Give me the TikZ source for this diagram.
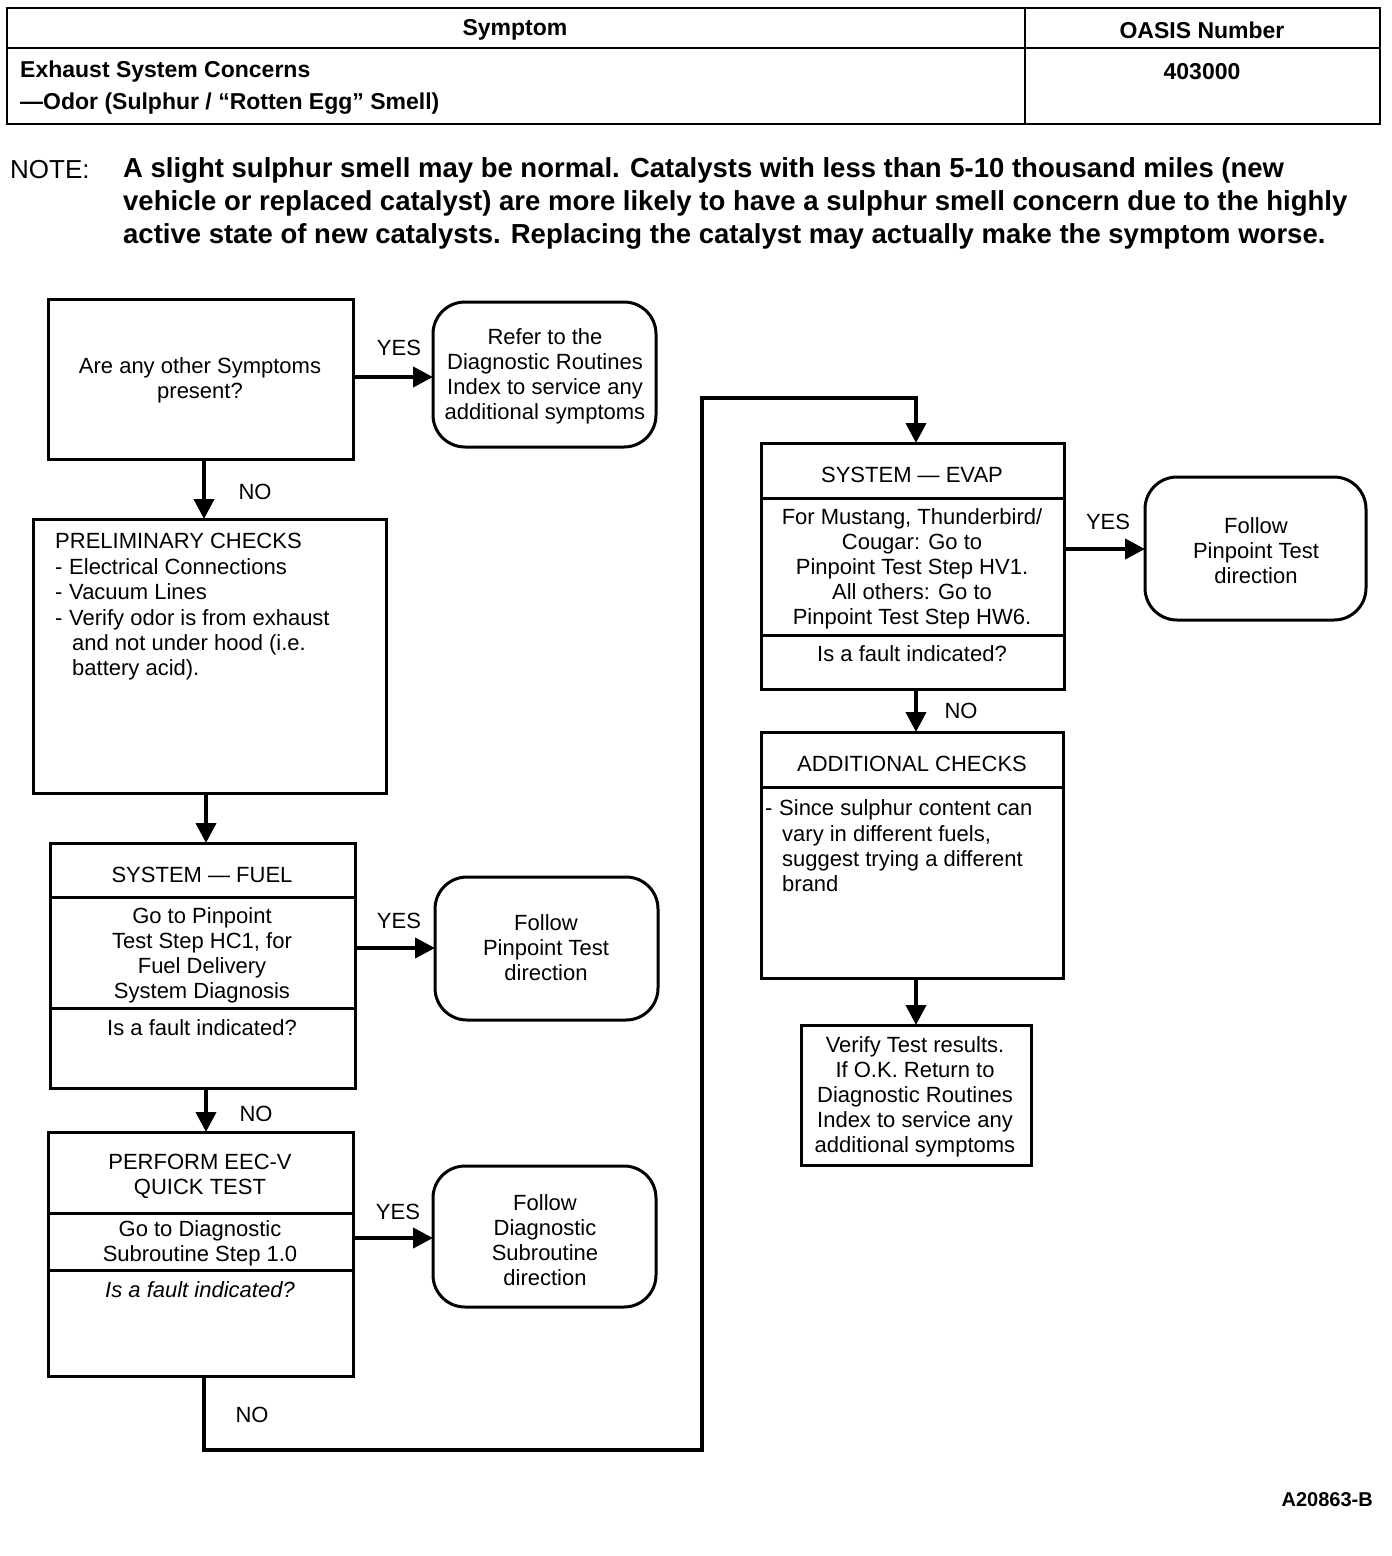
\documentclass[tikz,border=0pt]{standalone}
\usepackage{fontspec}
\setmainfont{Liberation Sans}
\usetikzlibrary{arrows.meta}
\begin{document}
\begin{tikzpicture}[x=1pt,y=-1pt,
 box/.style={draw,line width=3pt,inner sep=0,outer sep=0},
 rbox/.style={box,rounded corners=32pt},
 txt/.style={inner sep=0,align=center,font=\fontsize{22}{25}\selectfont},
 ltxt/.style={inner sep=0,align=left,anchor=west,font=\fontsize{22}{25.4}\selectfont},
 lbl/.style={inner sep=0,font=\fontsize{22}{25}\selectfont},
 hdr/.style={inner sep=0,font=\fontsize{23}{26}\selectfont\bfseries},
 arr/.style={line width=4pt,line join=miter,-{Triangle[length=20pt,width=20pt]}},
 div/.style={line width=3pt}]

\useasboundingbox (0,0) rectangle (1392,1556);

% header table
\draw[line width=2.5pt] (7,8) rectangle (1380,124);
\draw[line width=2.5pt] (7,48) -- (1380,48);
\draw[line width=2.5pt] (1025,8) -- (1025,124);
\node[hdr] (hs) at (515,30) {Symptom};
\node[hdr] (ho) at (1202,30) {OASIS Number};
\node[hdr,anchor=west] (he) at (20,72) {Exhaust System Concerns};
\node[hdr,anchor=west] (hd) at (20,104) {—Odor (Sulphur / “Rotten Egg” Smell)};
\node[hdr] (hn) at (1202,72) {403000};

% note
\node[inner sep=0,anchor=west,font=\fontsize{26}{33}\selectfont] (nl) at (10,170) {NOTE:};
\node[inner sep=0,anchor=west,align=left,font=\fontsize{27.5}{33}\selectfont\bfseries] (nt) at (123,203)
 {A slight sulphur smell may be normal. Catalysts with less than 5-10 thousand miles (new\\
  vehicle or replaced catalyst) are more likely to have a sulphur smell concern due to the highly\\
  active state of new catalysts. Replacing the catalyst may actually make the symptom worse.};

% boxes
\node[box,minimum width=305,minimum height=160] (b1) at (200.5,379) {};
\node[rbox,minimum width=223,minimum height=145] (r1) at (544.5,374.5) {};
\node[box,minimum width=353,minimum height=274] (b2) at (209.5,656) {};
\node[box,minimum width=305,minimum height=245] (b3) at (202.5,965.5) {};
\node[rbox,minimum width=223,minimum height=143] (r2) at (546.5,948.5) {};
\node[box,minimum width=305,minimum height=244] (b4) at (200.5,1254) {};
\node[rbox,minimum width=223,minimum height=141] (r3) at (544.5,1236.5) {};
\node[box,minimum width=303,minimum height=246] (b5) at (912.5,566) {};
\node[rbox,minimum width=221,minimum height=143] (r4) at (1255.5,548.5) {};
\node[box,minimum width=302,minimum height=246] (b6) at (912,855) {};
\node[box,minimum width=230,minimum height=140] (b7) at (916,1095) {};

% dividers
\draw[div] (b3.north west) ++(0,54) -- ++(305,0);
\draw[div] (b3.north west) ++(0,165) -- ++(305,0);
\draw[div] (b4.north west) ++(0,81) -- ++(305,0);
\draw[div] (b4.north west) ++(0,138) -- ++(305,0);
\draw[div] (b5.north west) ++(0,55) -- ++(303,0);
\draw[div] (b5.north west) ++(0,192) -- ++(303,0);
\draw[div] (b6.north west) ++(0,55) -- ++(302,0);

% texts
\node[txt] (t1) at (200,380) {Are any other Symptoms\\present?};
\node[txt] (tr1) at (545,376) {Refer to the\\Diagnostic Routines\\Index to service any\\additional symptoms};
\node[ltxt] (t2) at (55,607) {PRELIMINARY CHECKS\\
 \makebox[14pt][l]{-}Electrical Connections\\
 \makebox[14pt][l]{-}Vacuum Lines\\
 \makebox[14pt][l]{-}Verify odor is from exhaust\\
 \hspace*{17pt}and not under hood (i.e.\\
 \hspace*{17pt}battery acid).};
\node[txt] (t3a) at (202,875) {SYSTEM — FUEL};
\node[txt] (t3b) at (202,955) {Go to Pinpoint\\Test Step HC1, for\\Fuel Delivery\\System Diagnosis};
\node[txt] (t3c) at (202,1028) {Is a fault indicated?};
\node[txt] (tr2) at (546,948) {Follow\\Pinpoint Test\\direction};
\node[txt] (t4a) at (200,1176) {PERFORM EEC-V\\QUICK TEST};
\node[txt] (t4b) at (200,1243) {Go to Diagnostic\\Subroutine Step 1.0};
\node[txt,font=\fontsize{22}{25}\selectfont\itshape] (t4c) at (200,1290) {Is a fault indicated?};
\node[txt] (tr3) at (545,1240) {Follow\\Diagnostic\\Subroutine\\direction};
\node[txt] (t5a) at (912,475) {SYSTEM — EVAP};
\node[txt] (t5b) at (912,569) {For Mustang, Thunderbird/\\Cougar: Go to\\Pinpoint Test Step HV1.\\All others: Go to\\Pinpoint Test Step HW6.};
\node[txt] (t5c) at (912,654) {Is a fault indicated?};
\node[txt] (tr4) at (1256,551) {Follow\\Pinpoint Test\\direction};
\node[txt] (t6a) at (912,764) {ADDITIONAL CHECKS};
\node[ltxt] (t6b) at (765,846) {\makebox[14pt][l]{-}Since sulphur content can\\
 \hspace*{17pt}vary in different fuels,\\
 \hspace*{17pt}suggest trying a different\\
 \hspace*{17pt}brand};
\node[txt] (t7) at (915,1097) {Verify Test results.\\If O.K. Return to\\Diagnostic Routines\\Index to service any\\additional symptoms};

% labels
\node[lbl] (yes1) at (399,348) {YES};
\node[lbl] (yes2) at (399,921) {YES};
\node[lbl] (yes3) at (398,1212) {YES};
\node[lbl] (yes4) at (1108,522) {YES};
\node[lbl] (no1) at (255,492) {NO};
\node[lbl] (no2) at (256,1114) {NO};
\node[lbl] (no3) at (252,1415) {NO};
\node[lbl] (no4) at (961,711) {NO};
\node[inner sep=0,anchor=east,font=\fontsize{20}{24}\selectfont\bfseries] (fig) at (1373,1500) {A20863-B};

% coordinates
\coordinate (ya) at (0,377);
\coordinate (yb) at (0,948);
\coordinate (yc) at (0,1238);
\coordinate (yd) at (0,549);
\coordinate (xa) at (204,0);
\coordinate (xb) at (206,0);
\coordinate (xc) at (916,0);
\coordinate (k1) at (204,1450);
\coordinate (k2) at (702,1450);
\coordinate (k3) at (702,398);
\coordinate (k4) at (916,398);

% connectors
\draw[arr] (b1.east |- ya) -- (r1.west |- ya);
\draw[arr] (b3.east |- yb) -- (r2.west |- yb);
\draw[arr] (b4.east |- yc) -- (r3.west |- yc);
\draw[arr] (b5.east |- yd) -- (r4.west |- yd);
\draw[arr] (b1.south -| xa) -- (b2.north -| xa);
\draw[arr] (b2.south -| xb) -- (b3.north -| xb);
\draw[arr] (b3.south -| xb) -- (b4.north -| xb);
\draw[arr] (b4.south -| xa) -- (k1) -- (k2) -- (k3) -- (k4) -- (b5.north -| xc);
\draw[arr] (b5.south -| xc) -- (b6.north -| xc);
\draw[arr] (b6.south -| xc) -- (b7.north -| xc);
\end{tikzpicture}
\end{document}
